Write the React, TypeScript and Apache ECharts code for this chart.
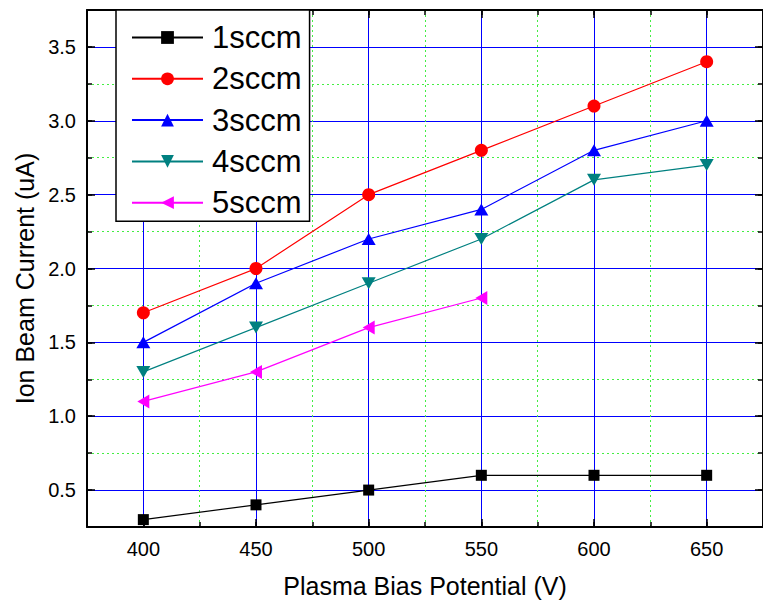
import React, { useEffect, useRef } from "react";
import * as echarts from "echarts";

const xValues = [400, 450, 500, 550, 600, 650];
const seriesNames = ["1sccm", "2sccm", "3sccm", "4sccm", "5sccm"];
const s1 = [0.3, 0.4, 0.5, 0.6, 0.6, 0.6];
const s2 = [1.7, 2.0, 2.5, 2.8, 3.1, 3.4];
const s3 = [1.5, 1.9, 2.2, 2.4, 2.8, 3.0];
const s4 = [1.3, 1.6, 1.9, 2.2, 2.6, 2.7];
const s5 = [1.1, 1.3, 1.6, 1.8];
const xTicks = [400, 450, 500, 550, 600, 650];
const yTicks = [0.5, 1.0, 1.5, 2.0, 2.5, 3.0, 3.5];
const colors = ["#000000", "#ff0000", "#0000ff", "#008080", "#ff00ff"];
const symbols = ["rect", "circle", "triangle", "triangle", "triangle"];
const symbolRotates = [0, 0, 0, 180, 90];
const symbolSizes: any[] = [11, 13, [14, 12], [14, 12], [14, 12]];

export default function App() {
  const ref = useRef<HTMLDivElement>(null);
  useEffect(() => {
    document.body.style.margin = "0";
    const chart = echarts.init(ref.current!, null, { renderer: "svg" });
    const allData = [s1, s2, s3, s4, s5];
    const font = "Liberation Sans, Arial, sans-serif";
    const axisLine = { show: true, onZero: false, lineStyle: { color: "#000", width: 2 } };
    const noLine = { show: false, onZero: false };
    const green = { show: true, lineStyle: { color: "#44ee44", width: 1, type: [2, 3] } };
    const blue = { show: true, lineStyle: { color: "#0000ff", width: 1 } };
    const minorTick = { show: true, inside: true, length: 5, lineStyle: { color: "#000", width: 1.5 } };
    const majorTick = { show: true, inside: true, length: 8, lineStyle: { color: "#000", width: 1.5 } };
    const xr = { type: "value", min: 375, max: 675 };
    const yr = { type: "value", min: 0.25, max: 3.75 };
    chart.setOption({
      animation: false,
      backgroundColor: "#ffffff",
      textStyle: { fontFamily: font },
      grid: { left: 87, top: 10, right: -7, bottom: 73, containLabel: false },
      legend: {
        orient: "vertical",
        left: 116,
        top: 10,
        padding: [12, 8, 3, 15],
        itemWidth: 71,
        itemHeight: 16,
        itemGap: 10.3,
        backgroundColor: "#ffffff",
        borderColor: "#000000",
        borderWidth: 1.5,
        borderRadius: 0,
        textStyle: { fontSize: 31, lineHeight: 30, color: "#000", fontFamily: font, padding: [0, 0, 0, 4] },
        data: seriesNames,
      },
      xAxis: [
        {
          ...xr,
          interval: 25,
          position: "bottom",
          axisLine,
          axisTick: minorTick,
          axisLabel: { show: false },
          splitLine: green,
        },
        {
          ...xr,
          position: "bottom",
          axisLine: noLine,
          name: "Plasma Bias Potential (V)",
          nameLocation: "middle",
          nameGap: 46,
          nameTextStyle: { fontSize: 25, color: "#000", fontFamily: font },
          axisTick: { ...majorTick, customValues: xTicks },
          axisLabel: { show: true, customValues: xTicks, fontSize: 20, color: "#000", margin: 12, fontFamily: font },
          splitLine: blue,
        },
        {
          ...xr,
          interval: 25,
          position: "top",
          axisLine,
          axisTick: minorTick,
          axisLabel: { show: false },
          splitLine: { show: false },
        },
        {
          ...xr,
          position: "top",
          axisLine: noLine,
          axisTick: { ...majorTick, customValues: xTicks },
          axisLabel: { show: false },
          splitLine: { show: false },
        },
      ],
      yAxis: [
        {
          ...yr,
          interval: 0.25,
          position: "left",
          axisLine,
          axisTick: minorTick,
          axisLabel: { show: false },
          splitLine: green,
        },
        {
          ...yr,
          position: "left",
          axisLine: noLine,
          name: "Ion Beam Current (uA)",
          nameLocation: "middle",
          nameGap: 50,
          nameTextStyle: { fontSize: 25, color: "#000", fontFamily: font, padding: [0, 20, 0, 0] },
          axisTick: { ...majorTick, customValues: yTicks },
          axisLabel: {
            show: true,
            customValues: yTicks,
            fontSize: 20,
            color: "#000",
            margin: 11,
            fontFamily: font,
            formatter: (v: number) => v.toFixed(1),
          },
          splitLine: blue,
        },
        {
          ...yr,
          interval: 0.25,
          position: "right",
          axisLine,
          axisTick: minorTick,
          axisLabel: { show: false },
          splitLine: { show: false },
        },
        {
          ...yr,
          position: "right",
          axisLine: noLine,
          axisTick: { ...majorTick, customValues: yTicks },
          axisLabel: { show: false },
          splitLine: { show: false },
        },
      ],
      series: seriesNames.map((name, i) => ({
        name,
        type: "line",
        xAxisIndex: 1,
        yAxisIndex: 1,
        data: allData[i].map((v, j) => [xValues[j], v]),
        symbol: symbols[i],
        symbolSize: symbolSizes[i],
        symbolRotate: symbolRotates[i],
        color: colors[i],
        itemStyle: { color: colors[i] },
        lineStyle: { color: colors[i], width: 1.2 },
        z: 10,
      })),
    });
    return () => chart.dispose();
  }, []);
  return <div ref={ref} style={{ width: 763, height: 603 }} />;
}
